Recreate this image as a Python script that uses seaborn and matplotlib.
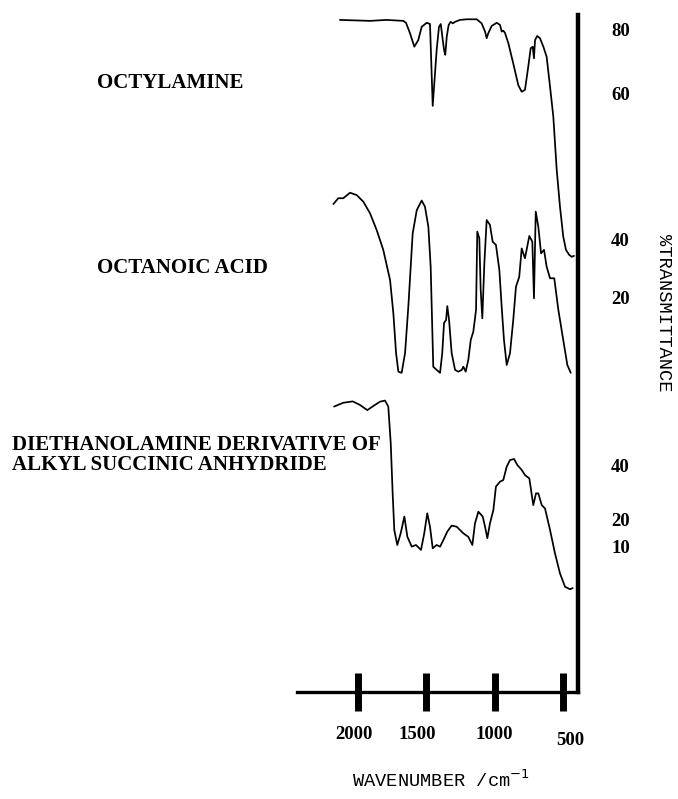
import numpy as np
import pandas as pd
import seaborn as sns
import matplotlib.pyplot as plt
from matplotlib.transforms import ScaledTranslation

# wavenumber (cm-1) and %T
octylamine_wn = [2135, 1914, 1792, 1670, 1650, 1621, 1589, 1560, 1535, 1498, 1474, 1454,
                 1425, 1408, 1395, 1371, 1362, 1351, 1337, 1322, 1307, 1290, 1254, 1205,
                 1131, 1095, 1070, 1058, 1046, 1021, 984, 960, 948, 936, 924, 899, 863,
                 826, 801, 777, 753, 735, 720, 711, 703, 687, 667, 642, 618, 593, 569,
                 544, 520, 496, 476, 452, 434, 417]
octylamine_t = [83.2, 82.9, 83.2, 82.9, 82.3, 79.0, 74.7, 76.8, 81.0, 82.3, 81.9, 55.9,
                73.7, 81.0, 81.9, 73.7, 72.1, 77.9, 81.6, 82.6, 82.1, 82.6, 83.2, 83.4,
                83.4, 82.1, 79.5, 77.4, 79.0, 81.3, 82.3, 81.6, 79.5, 79.8, 79.1, 75.8,
                69.4, 62.5, 60.4, 61.0, 68.3, 74.2, 74.7, 71.0, 76.8, 78.1, 77.4, 74.7,
                71.5, 62.0, 52.5, 35.6, 23.9, 14.4, 10.2, 8.6, 8.0, 8.3]

octanoic_wn = [2183, 2147, 2110, 2061, 2012, 1963, 1914, 1865, 1817, 1767, 1743, 1723,
               1706, 1682, 1657, 1633, 1601, 1571, 1535, 1511, 1486, 1469, 1450, 1425,
               1400, 1384, 1371, 1356, 1347, 1334, 1315, 1290, 1266, 1241, 1229, 1212,
               1193, 1175, 1156, 1136, 1127, 1112, 1102, 1090, 1075, 1058, 1034, 1014,
               990, 965, 948, 931, 911, 887, 863, 843, 819, 801, 777, 745, 723, 711,
               698, 679, 659, 637, 618, 593, 562, 532, 496, 466, 441]
octanoic_t = [52.4, 54.4, 54.4, 56.3, 55.5, 53.2, 49.2, 43.4, 36.6, 26.2, 14.8, 1.0,
              -5.4, -5.8, 1.0, 17.0, 42.3, 50.3, 53.6, 51.5, 44.6, 30.8, -3.7, -4.8,
              -5.8, 1.0, 11.4, 12.4, 17.2, 12.4, 1.0, -4.8, -5.4, -4.8, -3.7, -5.4,
              -1.4, 5.5, 8.4, 15.9, 42.9, 40.6, 22.8, 13.0, 32.0, 46.9, 45.2, 39.4,
              38.3, 29.7, 17.0, 5.5, -3.1, 0.9, 12.4, 23.9, 27.3, 37.1, 33.7, 41.4,
              39.4, 19.9, 49.8, 44.6, 35.4, 36.6, 30.8, 26.8, 26.8, 15.9, 5.5, -3.1, -5.8]

deriv_wn = [2178, 2110, 2041, 1988, 1934, 1890, 1841, 1804, 1780, 1762, 1748, 1736,
            1714, 1689, 1662, 1640, 1608, 1577, 1540, 1516, 1494, 1474, 1454, 1425,
            1400, 1376, 1347, 1315, 1278, 1230, 1193, 1163, 1144, 1119, 1087, 1070,
            1053, 1034, 1009, 990, 960, 936, 911, 887, 857, 833, 801, 777, 745, 716,
            696, 679, 654, 630, 593, 557, 520, 483, 447, 427]
deriv_t = [61.4, 62.8, 63.3, 62.0, 60.1, 61.6, 63.2, 63.6, 61.4, 47.9, 29.6, 16.2,
           10.7, 15.0, 21.1, 13.7, 10.1, 10.7, 8.9, 15.0, 22.3, 17.4, 9.5, 10.7,
           10.1, 12.5, 15.6, 17.8, 17.4, 15.0, 13.7, 10.7, 18.6, 22.9, 21.1, 17.4,
           13.2, 18.6, 23.5, 32.1, 33.9, 34.5, 39.4, 41.8, 42.2, 40.0, 38.2, 36.3,
           35.1, 25.3, 29.6, 29.6, 25.3, 24.1, 16.2, 7.7, 0.3, -4.6, -5.5, -5.1]

x_ticks = [2000, 1500, 1000, 500]
x_tick_labels = ["2000", "1500", "1000", "500"]

names = ["OCTYLAMINE", "OCTANOIC ACID",
         "DIETHANOLAMINE DERIVATIVE OF\nALKYL SUCCINIC ANHYDRIDE"]
right_ticks = [[80, 60], [40, 20], [40, 20, 10]]

# vertical stacking of the traces: height = offset + scale * %T
offsets = [410, 336, 117.8]
scales = [3.15, 2.9, 2.73]
label_y = [0.896, 0.665, 0.430]
label_x = [0.143, 0.143, 0.0173]

spectra = [(octylamine_wn, octylamine_t), (octanoic_wn, octanoic_t), (deriv_wn, deriv_t)]

sns.set_style("ticks", {"text.color": "black", "axes.labelcolor": "black",
                        "xtick.color": "black", "ytick.color": "black",
                        "axes.edgecolor": "black"})
plt.rcParams["font.family"] = ["Liberation Serif", "DejaVu Serif"]

fig = plt.figure(figsize=(6.78, 7.99), dpi=100)
ax = fig.add_axes([297 / 678, 107 / 799, 280.7 / 678, 677 / 799])

for (wn, t), off, sc in zip(spectra, offsets, scales):
    df = pd.DataFrame({"wn": wn, "h": off + sc * np.array(t)})
    sns.lineplot(data=df, x="wn", y="h", ax=ax, color="black", lw=1.25,
                 estimator=None, sort=False)

ax.set_xlim(2450, 390)
ax.set_ylim(0, 677)

yt, yl = [], []
for ticks, off, sc in zip(right_ticks, offsets, scales):
    for v in ticks:
        yt.append(off + sc * v)
        yl.append(str(v))
ax.set_yticks(yt)
ax.set_yticklabels(yl, fontsize=13.5, fontweight="bold")
ax.yaxis.tick_right()
ax.tick_params(axis="y", length=0, pad=24)

ax.set_xticks(x_ticks)
ax.set_xticklabels(x_tick_labels, fontsize=13.5, fontweight="bold")
ax.tick_params(axis="x", bottom=True, direction="inout", length=27, width=5,
               pad=11, color="black")
# the printed labels sit a little off their tick bars
for lab, (dx, dy) in zip(ax.get_xticklabels(), [(-4, 0), (-9, 0), (0, 0), (8, -6)]):
    lab.set_transform(lab.get_transform() +
                      ScaledTranslation(dx / 100, dy / 100, fig.dpi_scale_trans))

for side in ["top", "left"]:
    ax.spines[side].set_visible(False)
ax.spines["bottom"].set_linewidth(2.4)
ax.spines["right"].set_linewidth(3.2)

ax.set_xlabel("WAVENUMBER /cm$^{-1}$", family="Liberation Mono", fontsize=13.5)
ax.xaxis.set_label_coords(0.513, -0.13)
ax.xaxis.label.set_va("center")
ax.yaxis.set_label_position("right")
ax.set_ylabel("%TRANSMITTANCE", family="Liberation Mono", fontsize=13.5, rotation=270)
ax.yaxis.set_label_coords(1.304, 0.56)
ax.yaxis.label.set_va("center")
ax.yaxis.label.set_ha("center")

for name, x, y in zip(names, label_x, label_y):
    fig.text(x, y, name, fontsize=15, fontweight="bold", ha="left", va="center",
             linespacing=1.0)

fig.savefig("out.png", dpi=100)
